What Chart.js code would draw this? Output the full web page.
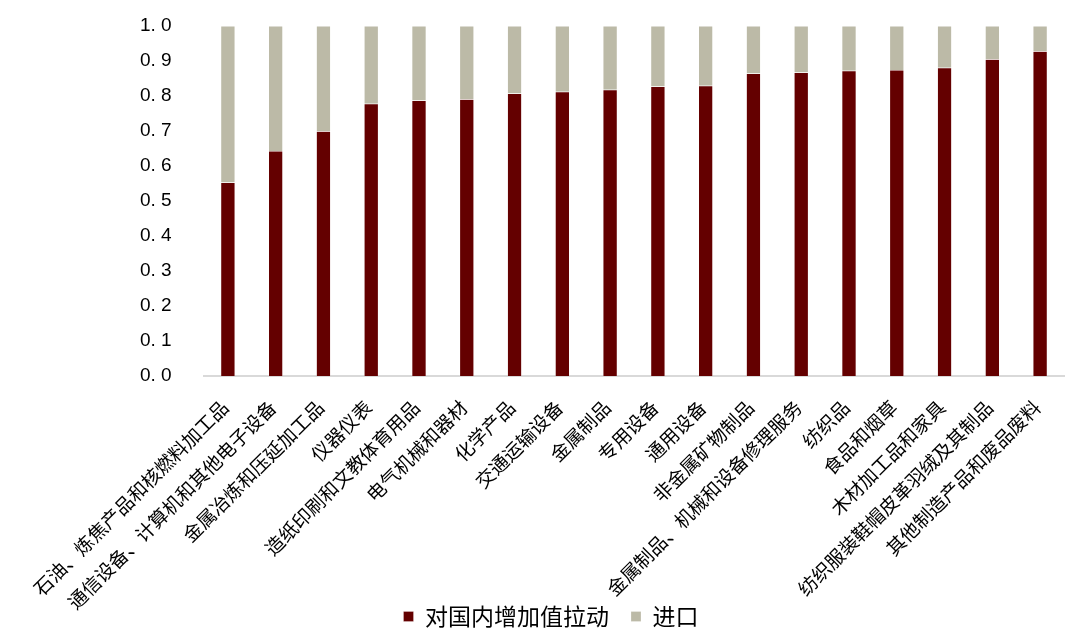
<!DOCTYPE html>
<html lang="zh">
<head>
  <meta charset="UTF-8">
  <title>对国内增加值拉动与进口</title>
  <script src="https://cdn.jsdelivr.net/npm/chart.js@4.4.1/dist/chart.umd.min.js"></script>
  <style>
    html, body { margin: 0; padding: 0; background: #fff; }
    #wrap { width: 1080px; height: 638px; position: relative; }
  </style>
</head>
<body>
<div id="wrap"><canvas id="myChart"></canvas></div>
<script>
  const categories = [
    "石油、炼焦产品和核燃料加工品", "通信设备、计算机和其他电子设备", "金属冶炼和压延加工品",
    "仪器仪表", "造纸印刷和文教体育用品", "电气机械和器材", "化学产品", "交通运输设备",
    "金属制品", "专用设备", "通用设备", "非金属矿物制品", "金属制品、机械和设备修理服务",
    "纺织品", "食品和烟草", "木材加工品和家具", "纺织服装鞋帽皮革羽绒及其制品", "其他制造产品和废品废料"
  ];
  const domesticValues = [0.553, 0.643, 0.699, 0.778, 0.787, 0.791, 0.807, 0.812, 0.818,
                          0.827, 0.829, 0.864, 0.867, 0.872, 0.874, 0.881, 0.905, 0.928];
  const importValues = [0.447, 0.357, 0.301, 0.222, 0.213, 0.209, 0.193, 0.188, 0.182,
                        0.173, 0.171, 0.136, 0.133, 0.128, 0.126, 0.119, 0.095, 0.072];
  const yTickLabels = ["0. 0", "0. 1", "0. 2", "0. 3", "0. 4", "0. 5", "0. 6", "0. 7", "0. 8", "0. 9", "1. 0"];

  const cjkFont = "'Noto Sans CJK SC', sans-serif";
  const numFont = "'Liberation Sans', Arial, sans-serif";

  // legend is centred on the whole picture, not on the padded box;
  // long x labels run down into the legend band, so don't clip them at the axis box
  const layoutTweaks = {
    id: "layoutTweaks",
    afterLayout: function (chart) {
      chart.legend.left -= 51;
      chart.legend.right -= 51;
      chart.scales.x.bottom = chart.height;
    }
  };

  new Chart("myChart", {
    type: "bar",
    data: {
      labels: categories,
      datasets: [{
        label: "对国内增加值拉动",
        data: domesticValues,
        backgroundColor: "#640000",
        borderColor: "rgba(255,255,255,0.5)",
        borderWidth: 0.5
      }, {
        label: "进口",
        data: importValues,
        backgroundColor: "#bcbaa7",
        borderColor: "rgba(255,255,255,0.5)",
        borderWidth: 0.5
      }]
    },
    plugins: [layoutTweaks],
    options: {
      responsive: true,
      maintainAspectRatio: false,
      animation: false,
      // y labels start at x=140, plot area begins at x=204
      layout: { padding: { top: 26, right: 16, left: 140, bottom: 0 } },
      datasets: { bar: { categoryPercentage: 1, barPercentage: 0.3 } },
      plugins: {
        tooltip: { enabled: false },
        legend: {
          position: "bottom",
          labels: {
            color: "#000",
            boxWidth: 10,
            boxHeight: 10,
            padding: 22,
            font: { size: 23, family: cjkFont }
          }
        }
      },
      scales: {
        x: {
          stacked: true,
          grid: { display: false, drawTicks: false },
          border: { display: true, color: "#d9d9d9", width: 2 },
          ticks: {
            color: "#000",
            autoSkip: false,
            minRotation: 45,
            maxRotation: 45,
            padding: 20,
            labelOffset: -3,
            font: { size: 19, family: cjkFont }
          },
          afterFit: function (scale) { scale.height = 207; }
        },
        y: {
          stacked: true,
          min: 0,
          max: 1,
          grid: { display: false, drawTicks: false },
          border: { display: false },
          ticks: {
            color: "#000",
            stepSize: 0.1,
            padding: 0,
            crossAlign: "far",
            font: { size: 19, family: numFont },
            callback: function (value, index) { return yTickLabels[index]; }
          },
          afterFit: function (scale) { scale.width = 64; }
        }
      }
    }
  });
</script>
</body>
</html>
